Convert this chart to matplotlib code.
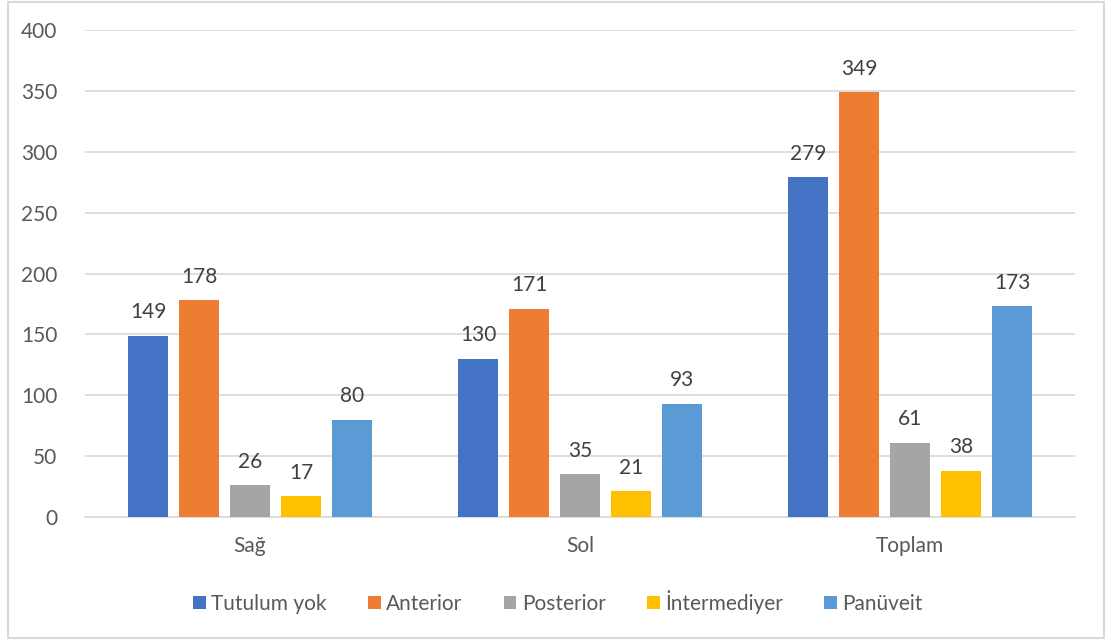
import numpy as np
import matplotlib.pyplot as plt
from matplotlib.patches import Rectangle

categories = ["Sağ", "Sol", "Toplam"]
series = ["Tutulum yok", "Anterior", "Posterior", "İntermediyer", "Panüveit"]
values = {
    "Tutulum yok": [149, 130, 279],
    "Anterior": [178, 171, 349],
    "Posterior": [26, 35, 61],
    "İntermediyer": [17, 21, 38],
    "Panüveit": [80, 93, 173],
}
colors = ["#4472C4", "#ED7D31", "#A5A5A5", "#FFC000", "#5B9BD5"]

plt.rcParams["font.family"] = ["Lato", "DejaVu Sans"]
text_color = "#595959"
grid_color = "#D9D9D9"
fs = 15

fig = plt.figure(figsize=(11.18, 6.43), dpi=100)
# plot area in pixel terms: x 85..1075, y 30..517
ax = fig.add_axes([85 / 1118, 1 - 517 / 643, 990 / 1118, 487 / 643])

# chart border
fig.patches.append(Rectangle((8 / 1118, 1 - 638 / 643), 1096 / 1118, 636 / 643,
                             transform=fig.transFigure, fill=False,
                             edgecolor=grid_color, linewidth=1.5))

x = np.arange(len(categories))
width = 0.121
step = 0.1545
for i, (name, c) in enumerate(zip(series, colors)):
    pos = x + (i - 2) * step
    bars = ax.bar(pos, values[name], width=width, color=c, label=name, zorder=3)
    for b, v in zip(bars, values[name]):
        ax.text(b.get_x() + b.get_width() / 2, v + 11, str(v), ha="center",
                va="bottom", fontsize=fs, color="#404040")

ax.set_xlim(-0.5, 2.5)
ax.set_ylim(0, 400)
ax.set_yticks(np.arange(0, 401, 50))
ax.set_xticks(x)
ax.set_xticklabels(categories)
ax.tick_params(axis="both", length=0, labelsize=fs, colors=text_color)
ax.tick_params(axis="y", pad=20)
ax.tick_params(axis="x", pad=14)
ax.grid(axis="y", color=grid_color, linewidth=1.2, zorder=0)
for s in ["top", "right", "left"]:
    ax.spines[s].set_visible(False)
ax.spines["bottom"].set_color(grid_color)
ax.spines["bottom"].set_linewidth(1.2)

fig.legend(loc="center", bbox_to_anchor=(558 / 1118, 1 - 602 / 643), ncol=5,
           frameon=False, fontsize=fs, labelcolor=text_color, handlelength=0.6,
           handleheight=0.6, handletextpad=0.25, columnspacing=2.0)

fig.savefig("out.png", dpi=100)
